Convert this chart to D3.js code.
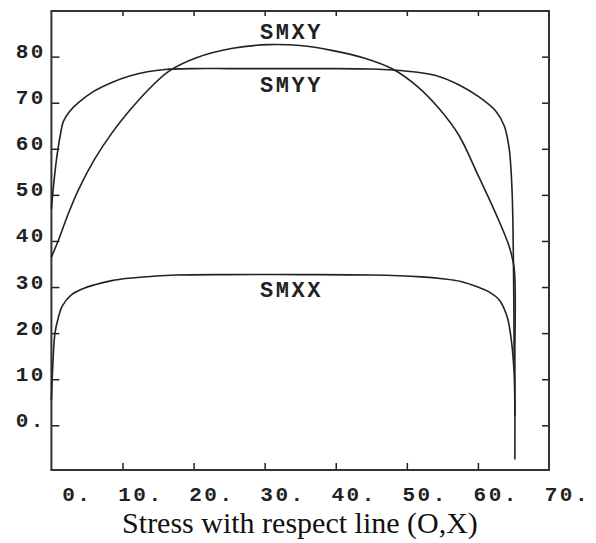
<!DOCTYPE html>
<html>
<head>
<meta charset="utf-8">
<script src="https://cdn.jsdelivr.net/npm/d3@7/dist/d3.min.js"></script>
<style>
  html, body { margin: 0; padding: 0; background: #fff; }
  svg { display: block; }
  .tick text { font-family: "Liberation Mono", "DejaVu Sans Mono", monospace; font-weight: bold; fill: #222; letter-spacing: 2.5px; }
</style>
</head>
<body>
<svg id="chart" width="596" height="543"></svg>
<script>
// Position along the line (O,X)
const smxyX = [0, 1, 2.4, 3.8, 6.1, 8.5, 11, 13.5, 16.5, 20.5, 25.5, 30.5, 35, 39.6, 44.2, 48, 51.5, 54.5, 57.3, 60.1, 62.5, 64.4, 65.1, 65.2, 65.2];
const smxyY = [36.5, 40.2, 46, 51.1, 57.8, 63.4, 68.3, 72.6, 76.8, 79.8, 81.8, 82.6, 82.4, 81.3, 79.6, 77.3, 73.5, 68.8, 63, 54, 46, 38.8, 34, 15, -7.4];

const smyyX = [0, 0.3, 0.7, 1.2, 1.7, 2.5, 3.8, 6, 8.5, 11, 13.5, 16, 20, 25, 30, 35, 40, 45, 48, 51.5, 54.5, 57.3, 60.1, 62.5, 63.7, 64.4, 64.8, 65.0, 65.1];
const smyyY = [47, 52, 57.5, 62.5, 66, 68, 70, 72.5, 74.4, 75.8, 76.7, 77.2, 77.4, 77.4, 77.4, 77.4, 77.4, 77.3, 77.1, 76.6, 75.7, 73.9, 71.3, 68.2, 65, 60, 51, 35, 14];

const smxxX = [0, 0.2, 0.5, 1, 1.5, 2.8, 4.5, 6.1, 8.5, 10.8, 14, 17.5, 25, 35, 45, 52, 55, 57.6, 60, 61.5, 63, 64.1, 64.7, 65.1, 65.2];
const smxxY = [5.5, 13, 20, 23.5, 25.8, 28.3, 29.7, 30.5, 31.4, 31.9, 32.3, 32.6, 32.7, 32.7, 32.6, 32.2, 31.8, 31.2, 30, 29, 27.2, 23.6, 18.5, 11, 2];

const seriesNames = ["SMXY", "SMYY", "SMXX"];
// where each curve's name is written, in data units
const labelX = [33.6, 33.6, 33.6];
const labelY = [85.4, 74.1, 29.6];

const xTicks = [0, 10, 20, 30, 40, 50, 60, 70];
const xTickLabels = ["0.", "10.", "20.", "30.", "40.", "50.", "60.", "70."];
const yTicks = [0, 10, 20, 30, 40, 50, 60, 70, 80];
const yTickLabels = ["0.", "10", "20", "30", "40", "50", "60", "70", "80"];
const xTitle = "Stress with respect line (O,X)";

const svg = d3.select("#chart");
const plotLeft = 51.4, plotRight = 549, plotTop = 11, plotBottom = 470;

const x = d3.scaleLinear().domain([0, 70]).range([plotLeft, plotRight]);
const y = d3.scaleLinear().domain([-9.7, 89.9]).range([plotBottom, plotTop]);

const ink = "#222";

// bottom axis: inward ticks, labels set right of the tick
const gx = svg.append("g").attr("transform", `translate(0,${plotBottom})`)
  .call(d3.axisBottom(x).tickValues(xTicks).tickSize(-7).tickPadding(0)
    .tickFormat((d, i) => xTickLabels[i]));
gx.select(".domain").remove();
gx.selectAll(".tick line").attr("stroke", ink).attr("stroke-width", 1.5);
gx.selectAll(".tick text").attr("text-anchor", "end").attr("x", 40.5).attr("y", 31)
  .attr("dy", 0).style("font-size", "21px");
gx.selectAll(".tick").filter(d => d === 0 || d === 70).select("line").remove();

// top axis: ticks only
const gt = svg.append("g").attr("transform", `translate(0,${plotTop})`)
  .call(d3.axisTop(x).tickValues(xTicks.slice(1, -1)).tickSize(-5).tickFormat(""));
gt.select(".domain").remove();
gt.selectAll(".tick line").attr("stroke", ink).attr("stroke-width", 1.5);

// left axis
const gy = svg.append("g").attr("transform", `translate(${plotLeft},0)`)
  .call(d3.axisLeft(y).tickValues(yTicks).tickSize(-8).tickPadding(0)
    .tickFormat((d, i) => yTickLabels[i]));
gy.select(".domain").remove();
gy.selectAll(".tick line").attr("stroke", ink).attr("stroke-width", 1.5);
gy.selectAll(".tick text").attr("text-anchor", "end").attr("x", -5.5).attr("dy", 1)
  .style("font-size", "21px");

// right axis: ticks only
const gr = svg.append("g").attr("transform", `translate(${plotRight},0)`)
  .call(d3.axisRight(y).tickValues(yTicks).tickSize(-7).tickFormat(""));
gr.select(".domain").remove();
gr.selectAll(".tick line").attr("stroke", ink).attr("stroke-width", 1.5);

// frame
svg.append("rect")
  .attr("x", plotLeft).attr("y", plotTop)
  .attr("width", plotRight - plotLeft).attr("height", plotBottom - plotTop)
  .attr("fill", "none").attr("stroke", "#333").attr("stroke-width", 2);

// curves
const line = d3.line()
  .x(d => x(d[0])).y(d => y(d[1]))
  .curve(d3.curveCatmullRom.alpha(0.5));

const series = [
  d3.zip(smxyX, smxyY),
  d3.zip(smyyX, smyyY),
  d3.zip(smxxX, smxxY)
];

svg.append("g").selectAll("path").data(series).join("path")
  .attr("d", line)
  .attr("fill", "none")
  .attr("stroke", ink)
  .attr("stroke-width", 1.6)
  .attr("stroke-linejoin", "round");

// curve names
svg.append("g").selectAll("text").data(seriesNames).join("text")
  .attr("x", (d, i) => x(labelX[i]) + 1.2)
  .attr("y", (d, i) => y(labelY[i]))
  .attr("dy", "0.35em")
  .attr("text-anchor", "middle")
  .style("font-family", "'Liberation Mono', 'DejaVu Sans Mono', monospace")
  .style("font-weight", "bold")
  .style("font-size", "22px")
  .style("letter-spacing", "2.5px")
  .attr("fill", ink)
  .text(d => d);

// axis title
svg.append("text")
  .attr("x", 300)
  .attr("y", 533)
  .attr("text-anchor", "middle")
  .style("font-family", "'Liberation Serif', 'Times New Roman', serif")
  .style("font-size", "30px")
  .attr("fill", "#111")
  .text(xTitle);
</script>
</body>
</html>
